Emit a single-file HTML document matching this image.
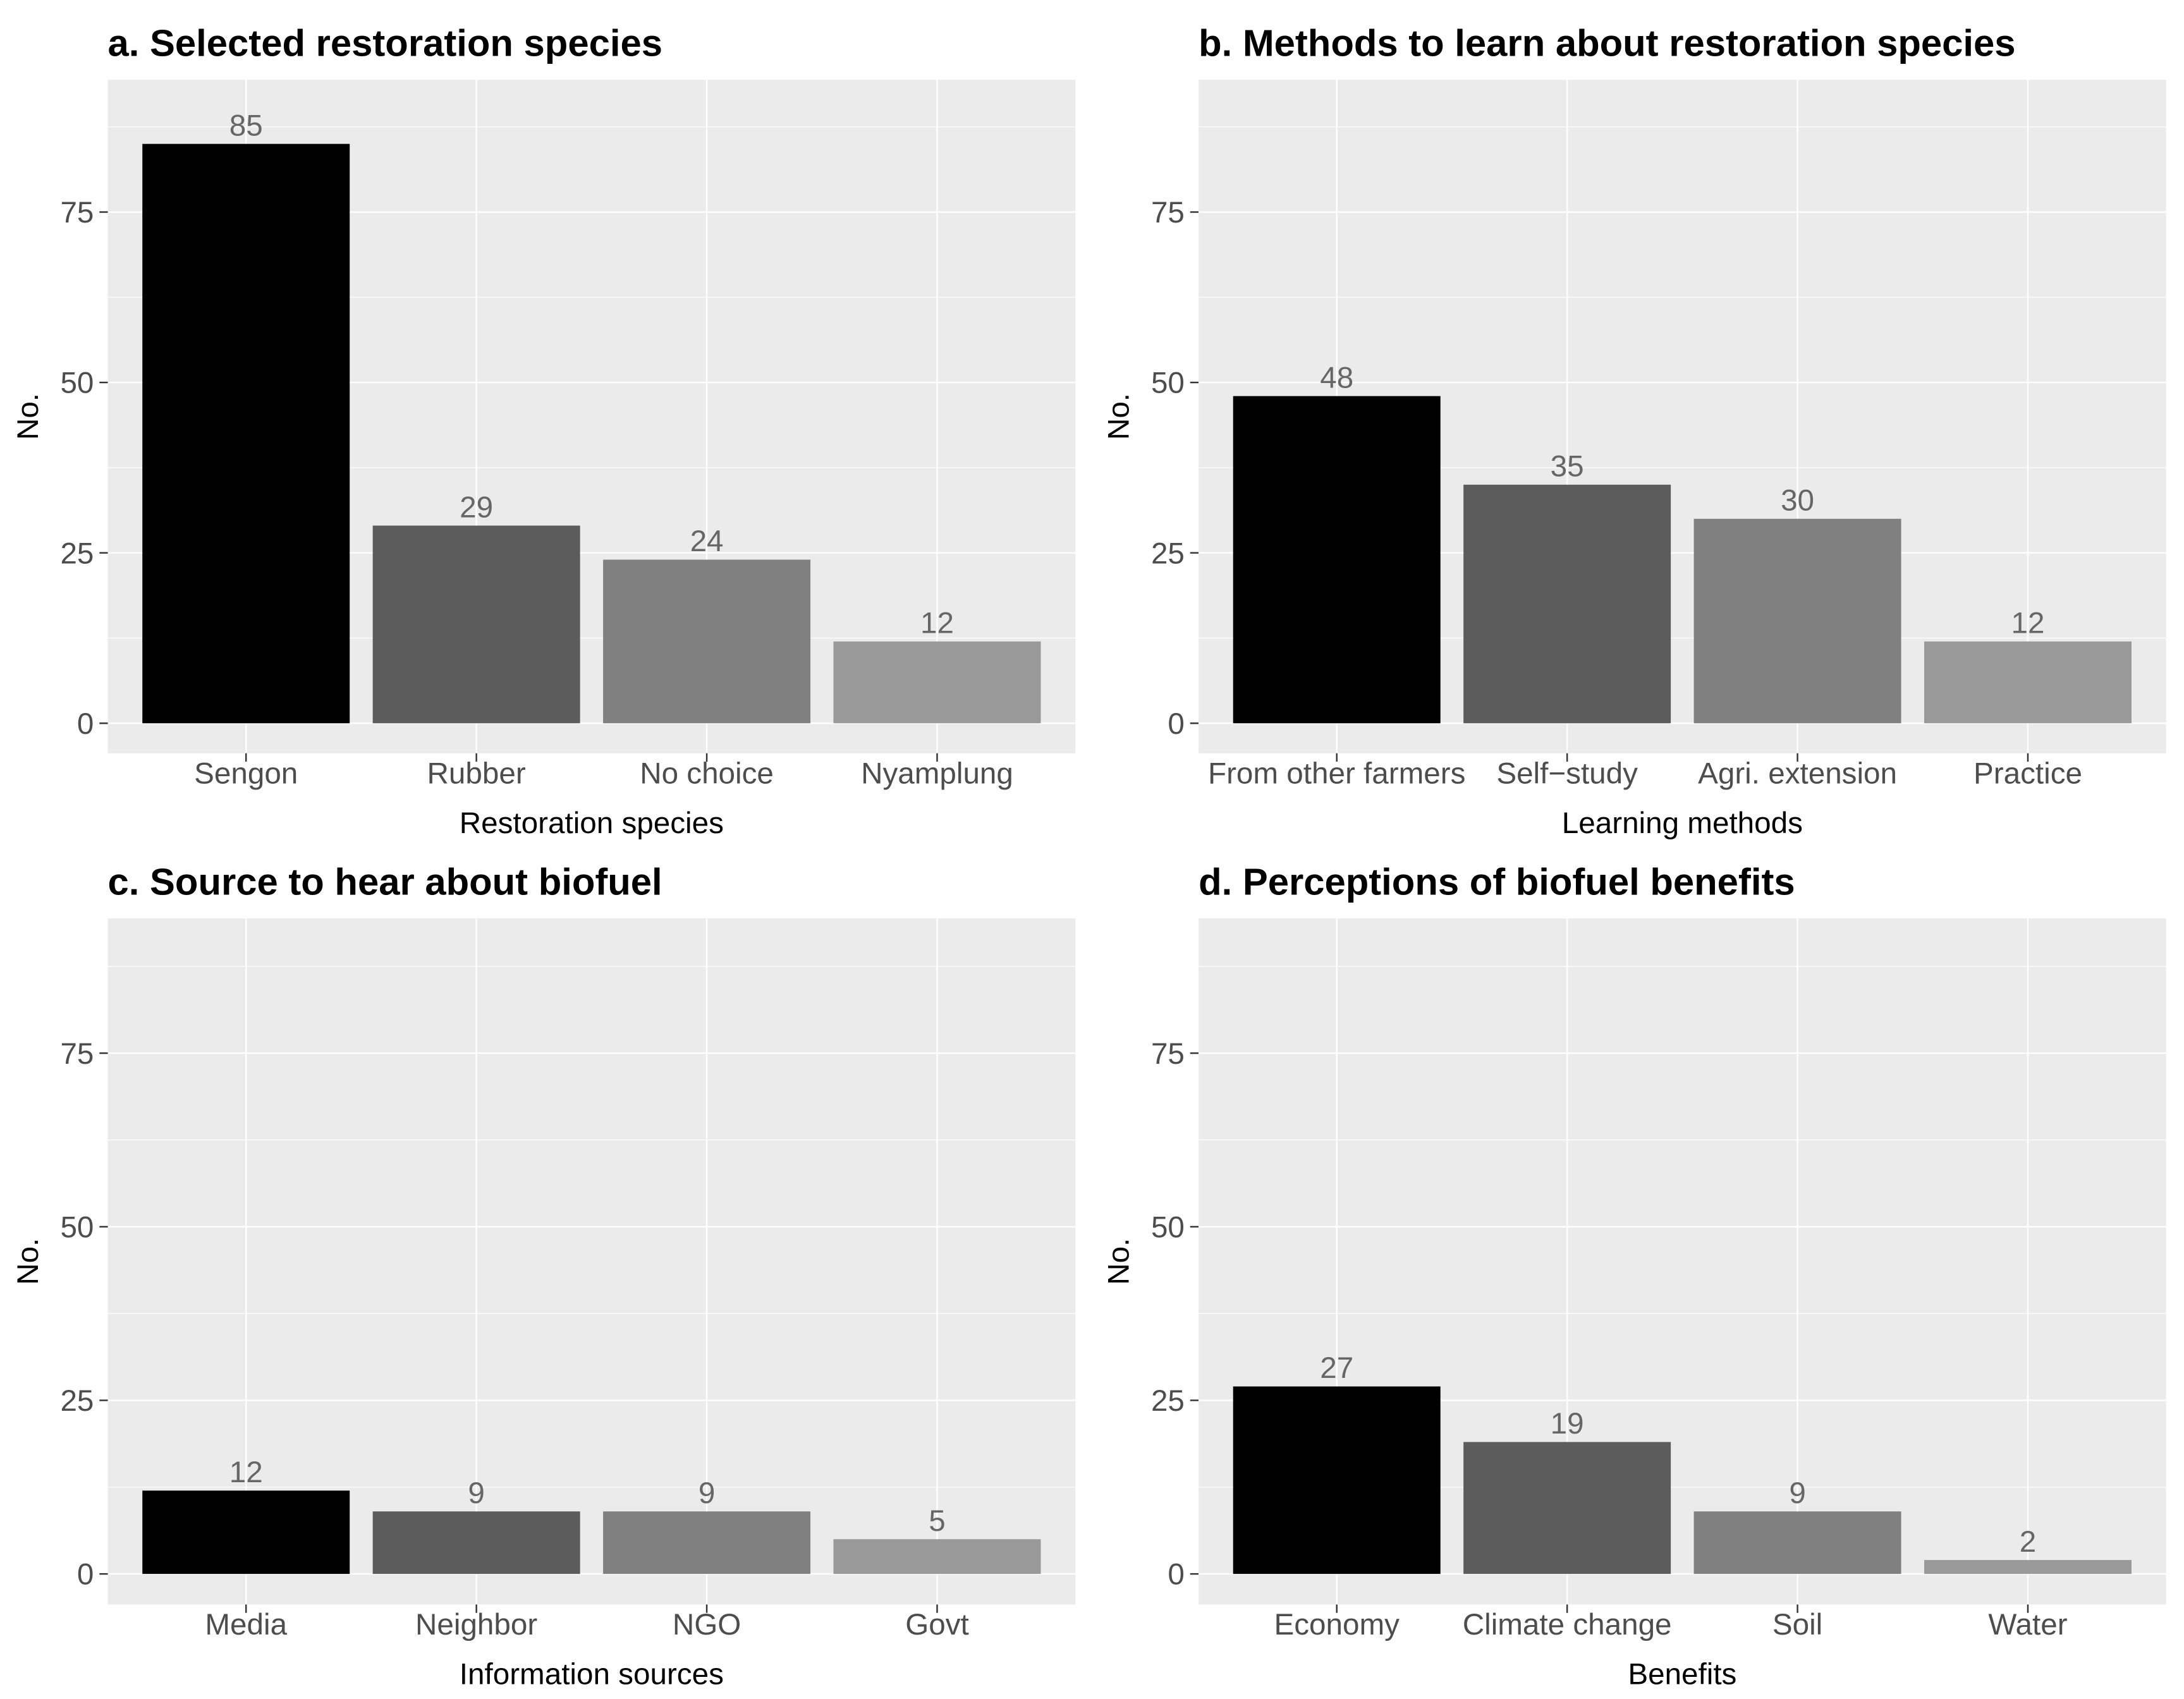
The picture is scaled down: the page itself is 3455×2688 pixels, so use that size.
<!DOCTYPE html>
<html><head><meta charset="utf-8"><style>
html,body{margin:0;padding:0;background:#fff;}
svg{display:block;font-family:"Liberation Sans",Arial,sans-serif;}
</style></head><body>
<svg id="fig" width="3455" height="2688" viewBox="0 0 1559.8 1213.5" xmlns="http://www.w3.org/2000/svg"></svg>
<script>
const catsA = ["Sengon","Rubber","No choice","Nyamplung"];
const valsA = [85,29,24,12];
const catsB = ["From other farmers","Self\u2212study","Agri. extension","Practice"];
const valsB = [48,35,30,12];
const catsC = ["Media","Neighbor","NGO","Govt"];
const valsC = [12,9,9,5];
const catsD = ["Economy","Climate change","Soil","Water"];
const valsD = [27,19,9,2];
const yTicks = [0,25,50,75];
const yMinor = [12.5,37.5,62.5,87.5];
const fills = ["#000000","#5c5c5c","#808080","#999999"];

const NS="http://www.w3.org/2000/svg";
const svg=document.getElementById('fig');
function mk(tag,attrs,parent){const e=document.createElementNS(NS,tag);for(const k in attrs)e.setAttribute(k,attrs[k]);(parent||svg).appendChild(e);return e;}

const panels=[
 {id:"a",title:"a. Selected restoration species",xt:"Restoration species",cats:catsA,vals:valsA,x0:77,x1:768,y0:57,y1:538},
 {id:"b",title:"b. Methods to learn about restoration species",xt:"Learning methods",cats:catsB,vals:valsB,x0:856,x1:1547,y0:57,y1:538},
 {id:"c",title:"c. Source to hear about biofuel",xt:"Information sources",cats:catsC,vals:valsC,x0:77,x1:768,y0:656,y1:1146},
 {id:"d",title:"d. Perceptions of biofuel benefits",xt:"Benefits",cats:catsD,vals:valsD,x0:856,x1:1547,y0:656,y1:1146}
];

panels.forEach(p=>{
 const g=mk('g',{});
 
 
 const yMin=-4.4,yMax=94.4;
 const y=v=>p.y1-(v-yMin)/(yMax-yMin)*(p.y1-p.y0);
 const n=p.cats.length;
 const unit=(p.x1-p.x0)/(n-1+1.2);
 const x=i=>p.x0+(0.6+i)*unit;
 const bg=mk('rect',{x:p.x0,y:p.y0,width:p.x1-p.x0,height:p.y1-p.y0,fill:"#ebebeb"},g);
 
 
 yMinor.forEach(v=>{const l=mk('line',{x1:p.x0,x2:p.x1,y1:y(v),y2:y(v),stroke:"#fff","stroke-width":0.55},g);
  
  });
 yTicks.forEach(v=>{const l=mk('line',{x1:p.x0,x2:p.x1,y1:y(v),y2:y(v),stroke:"#fff","stroke-width":1.1},g);
  
  
  const t=mk('line',{x1:p.x0-6,x2:p.x0,y1:y(v),y2:y(v),stroke:"#333","stroke-width":1.1},g);
  
  
  const tl=mk('text',{x:p.x0-10,y:y(v)+7.5,"text-anchor":"end","font-size":21.5,fill:"#4d4d4d"},g);
  tl.textContent=v;
  
  });
 p.cats.forEach((c,i)=>{
  const l=mk('line',{x1:x(i),x2:x(i),y1:p.y0,y2:p.y1,stroke:"#fff","stroke-width":1.1},g);
  
  
 });
 p.cats.forEach((c,i)=>{
  const w=0.9*unit,v=p.vals[i];
  const b=mk('rect',{x:x(i)-w/2,y:y(v),width:w,height:y(0)-y(v),fill:fills[i]},g);
  
  
  const vl=mk('text',{x:x(i),y:y(v)-6,"text-anchor":"middle","font-size":21.5,fill:"#666"},g);
  vl.textContent=v;
  
  
  const t=mk('line',{x1:x(i),x2:x(i),y1:p.y1,y2:p.y1+6,stroke:"#333","stroke-width":1.1},g);
  
  
  const tl=mk('text',{x:x(i),y:p.y1+21.5,"text-anchor":"middle","font-size":21.5,fill:"#4d4d4d"},g);
  tl.textContent=c;
  
  
 });
 const tt=mk('text',{x:p.x0,y:p.y0-17,"font-size":27,"font-weight":"bold",fill:"#000"},g);
 tt.textContent=p.title;
 
 
 const xt=mk('text',{x:(p.x0+p.x1)/2,y:p.y1+57,"text-anchor":"middle","font-size":21.5,fill:"#000"},g);
 xt.textContent=p.xt;
 
 
 const cy=(p.y0+p.y1)/2;
 const yt=mk('text',{x:0,y:0,"text-anchor":"middle","font-size":21.5,fill:"#000",transform:`translate(${p.x0-50},${cy}) rotate(-90)`},g);
 yt.textContent="No.";
 
 
});
</script>
</body></html>
